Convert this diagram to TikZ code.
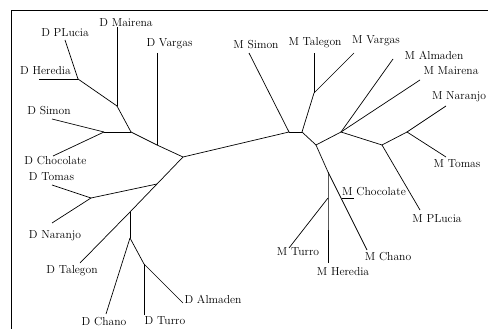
\documentclass[tikz,border=0pt]{standalone}
\begin{document}
\begin{tikzpicture}[x=1pt, y=-1pt, line width=0.7pt,
    lbl/.style={inner sep=0pt, font=\fontsize{11.6}{14}\selectfont}]
    \useasboundingbox (0, 0) rectangle (488, 329);
    \draw[line width=0.9pt] (11, 329) -- (11, 10) -- (488, 10);

    \coordinate (a) at (78, 79);
    \coordinate (b) at (117, 106);
    \coordinate (c) at (131, 132);
    \coordinate (d) at (104, 132);
    \coordinate (cv) at (157, 145);
    \coordinate (e) at (183, 157);
    \coordinate (g) at (157, 184);
    \coordinate (h) at (130, 212);
    \coordinate (i) at (130, 238);
    \coordinate (j) at (91, 198);
    \coordinate (k) at (144, 264);
    \coordinate (f) at (289, 132);
    \coordinate (l) at (302, 132);
    \coordinate (m) at (314, 93);
    \coordinate (n) at (316, 145);
    \coordinate (o) at (341, 132);
    \coordinate (p) at (382, 145);
    \coordinate (q) at (407, 132);
    \coordinate (r) at (328, 172);
    \coordinate (s) at (328, 198);

    \node[lbl] (dmairena) at (126, 23) {D Mairena};
    \node[lbl] (dplucia) at (65, 33) {D PLucia};
    \node[lbl] (dheredia) at (45.5, 71) {D Heredia};
    \node[lbl] (dvargas) at (169.5, 44) {D Vargas};
    \node[lbl] (dsimon) at (49, 111) {D Simon};
    \node[lbl] (dchocolate) at (55.5, 161) {D Chocolate};
    \node[lbl] (dtomas) at (51.5, 177) {D Tomas};
    \node[lbl] (dnaranjo) at (55, 236) {D Naranjo};
    \node[lbl] (dtalegon) at (72, 271) {D Talegon};
    \node[lbl] (dchano) at (104, 322) {D Chano};
    \node[lbl] (dturro) at (165, 321) {D Turro};
    \node[lbl] (dalmaden) at (213, 299) {D Almaden};
    \node[lbl] (msimon) at (256, 45) {M Simon};
    \node[lbl] (mtalegon) at (315, 43) {M Talegon};
    \node[lbl] (mvargas) at (376, 41) {M Vargas};
    \node[lbl] (malmaden) at (434, 55) {M Almaden};
    \node[lbl] (mmairena) at (451, 71) {M Mairena};
    \node[lbl] (mnaranjo) at (459, 97) {M Naranjo};
    \node[lbl] (mtomas) at (457, 164) {M Tomas};
    \node[lbl] (mplucia) at (437, 219) {M PLucia};
    \node[lbl] (mchocolate) at (374, 192) {M Chocolate};
    \node[lbl] (mturro) at (298, 252) {M Turro};
    \node[lbl] (mheredia) at (343, 272) {M Heredia};
    \node[lbl] (mchano) at (388, 257) {M Chano};

    \coordinate (dmairenae) at (117, 27);
    \coordinate (dpluciae) at (65, 40);
    \coordinate (dherediae) at (39, 79);
    \coordinate (dvargase) at (157, 53);
    \coordinate (dsimone) at (52, 119);
    \coordinate (dchocolatee) at (53, 156);
    \coordinate (dtomase) at (52, 185);
    \coordinate (dnaranjoe) at (52, 223);
    \coordinate (dtalegone) at (80, 263);
    \coordinate (dchanoe) at (106, 314);
    \coordinate (dturroe) at (144, 315);
    \coordinate (dalmadene) at (183, 303);
    \coordinate (msimone) at (249, 53);
    \coordinate (mtalegone) at (314, 53);
    \coordinate (mvargase) at (354, 53);
    \coordinate (malmadene) at (393, 59);
    \coordinate (mmairenae) at (420, 80);
    \coordinate (mnaranjoe) at (446, 106);
    \coordinate (mtomase) at (446, 157);
    \coordinate (mpluciae) at (420, 210);
    \coordinate (mchocolatee) at (342, 198);
    \coordinate (mchocolatef) at (354, 198);
    \coordinate (mturroe) at (289, 248);
    \coordinate (mherediae) at (328, 263);
    \coordinate (mchanoe) at (367, 250);

    \draw (dpluciae) -- (a);
    \draw (dherediae) -- (a);
    \draw (a) -- (b);
    \draw (dmairenae) -- (b);
    \draw (b) -- (c);
    \draw (dsimone) -- (d);
    \draw (dchocolatee) -- (d);
    \draw (d) -- (c);
    \draw (c) -- (cv) -- (e);
    \draw (dvargase) -- (cv);
    \draw (e) -- (f);
    \draw (e) -- (g) -- (h) -- (dtalegone);
    \draw (g) -- (j);
    \draw (j) -- (dtomase);
    \draw (j) -- (dnaranjoe);
    \draw (h) -- (i);
    \draw (i) -- (dchanoe);
    \draw (i) -- (k);
    \draw (k) -- (dturroe);
    \draw (k) -- (dalmadene);

    \draw (f) -- (msimone);
    \draw (f) -- (l);
    \draw (l) -- (m);
    \draw (m) -- (mtalegone);
    \draw (m) -- (mvargase);
    \draw (l) -- (n);
    \draw (n) -- (o);
    \draw (o) -- (malmadene);
    \draw (o) -- (mmairenae);
    \draw (o) -- (p);
    \draw (p) -- (q);
    \draw (q) -- (mnaranjoe);
    \draw (q) -- (mtomase);
    \draw (p) -- (mpluciae);
    \draw (n) -- (r) -- (mchanoe);
    \draw (r) -- (s) -- (mherediae);
    \draw (s) -- (mturroe);
    \draw (mchocolatee) -- (mchocolatef);
\end{tikzpicture}
\end{document}
